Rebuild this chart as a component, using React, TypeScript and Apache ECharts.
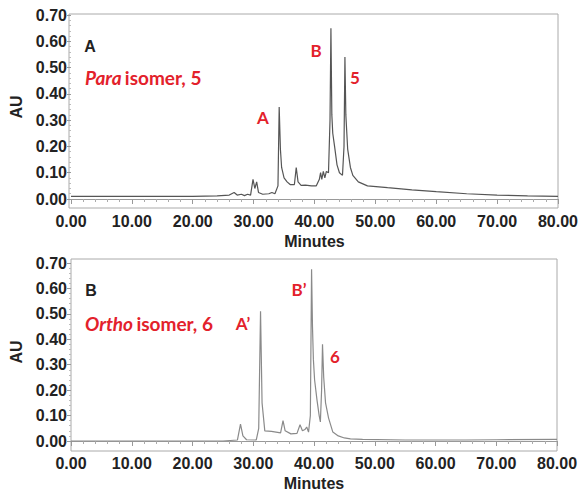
import React, { useEffect, useRef } from "react";
import * as echarts from "echarts";

// Panel A: para isomer 5 (minutes, AU)
const paraTime = [0, 5, 10, 15, 20, 24, 26, 26.8, 27.3, 28, 28.5, 29, 29.5, 29.9, 30.2, 30.5, 30.8, 31.5, 32.5, 33, 33.5, 34.0, 34.2, 34.4, 34.6, 35.0, 35.5, 36, 36.7, 37.0, 37.3, 37.8, 38.5, 39.5, 40.3, 40.8, 41.0, 41.2, 41.45, 41.7, 41.95, 42.3, 42.55, 42.7, 42.85, 43.0, 43.3, 43.7, 44.1, 44.6, 44.85, 45.0, 45.15, 45.45, 45.9, 46.3, 47.2, 48.7, 52, 56, 60, 65, 70, 75, 80];
const paraAU = [0.01, 0.01, 0.01, 0.01, 0.01, 0.012, 0.015, 0.025, 0.015, 0.018, 0.013, 0.018, 0.015, 0.075, 0.04, 0.065, 0.025, 0.018, 0.02, 0.025, 0.02, 0.05, 0.35, 0.19, 0.12, 0.08, 0.065, 0.055, 0.055, 0.12, 0.065, 0.052, 0.053, 0.05, 0.05, 0.075, 0.1, 0.075, 0.105, 0.08, 0.105, 0.1, 0.3, 0.65, 0.32, 0.25, 0.2, 0.13, 0.1, 0.09, 0.2, 0.54, 0.32, 0.19, 0.12, 0.09, 0.065, 0.05, 0.043, 0.035, 0.028, 0.02, 0.015, 0.012, 0.01];

// Panel B: ortho isomer 6 (minutes, AU)
const orthoTime = [0, 10, 20, 25, 27.4, 27.9, 28.3, 28.9, 30.5, 30.9, 31.2, 31.45, 31.9, 33, 34.5, 34.9, 35.25, 36.2, 37.2, 37.7, 38.1, 38.5, 38.8, 39.1, 39.4, 39.6, 39.75, 39.9, 40.1, 40.5, 40.85, 41.05, 41.25, 41.4, 41.6, 41.9, 42.4, 43.1, 44, 45, 46, 48, 55, 65, 70, 80];
const orthoAU = [0.0, 0.0, 0.0, 0.0, 0.004, 0.066, 0.02, 0.005, 0.004, 0.05, 0.51, 0.15, 0.04, 0.038, 0.032, 0.08, 0.04, 0.028, 0.03, 0.064, 0.04, 0.045, 0.055, 0.035, 0.1, 0.675, 0.45, 0.32, 0.24, 0.16, 0.1, 0.075, 0.2, 0.38, 0.25, 0.15, 0.09, 0.035, 0.02, 0.012, 0.008, 0.006, 0.004, 0.004, 0.005, 0.006];

const xTicks = [0, 10, 20, 30, 40, 50, 60, 70, 80];
const yTicks = [0, 0.1, 0.2, 0.3, 0.4, 0.5, 0.6, 0.7];

const AXIS_FONT = "'Liberation Sans', Arial, sans-serif";
const ANNO_FONT = "Lato, 'Open Sans', sans-serif";
const RED = "#e3212b";

function zip(xs: number[], ys: number[]) {
  return xs.map((x, i) => [x, ys[i]]);
}

export default function App() {
  const ref = useRef<HTMLDivElement>(null);
  useEffect(() => {
    document.body.style.margin = "0";
    if (!ref.current) return;
    const chart = echarts.init(ref.current, undefined, { renderer: "svg" });

    const grids = [
      { left: 69, right: 23, top: 15, bottom: 293 },
      { left: 71, right: 24, top: 263, bottom: 50 },
    ];

    const mkX = (i: number) => ({
      type: "value",
      gridIndex: i,
      min: xTicks[0],
      max: xTicks[xTicks.length - 1],
      interval: 10,
      offset: 9,
      name: "Minutes",
      nameLocation: "middle",
      nameGap: 25,
      nameTextStyle: { fontFamily: AXIS_FONT, fontWeight: "bold", fontSize: 16, color: "#222" },
      axisLine: { show: true, lineStyle: { color: "#999", width: 1 } },
      axisTick: { show: true, length: 5, lineStyle: { color: "#999" } },
      minorTick: { show: true, splitNumber: 5, length: 3, lineStyle: { color: "#aaa" } },
      splitLine: { show: false },
      axisLabel: {
        fontFamily: AXIS_FONT,
        fontWeight: "bold",
        fontSize: 16,
        color: "#222",
        margin: 5,
        formatter: (v: number) => v.toFixed(2),
      },
    });

    const mkY = (i: number) => ({
      type: "value",
      gridIndex: i,
      min: yTicks[0],
      max: yTicks[yTicks.length - 1],
      interval: 0.1,
      name: "AU",
      nameLocation: "middle",
      nameGap: 47,
      nameTextStyle: { fontFamily: AXIS_FONT, fontWeight: "bold", fontSize: 16, color: "#222" },
      axisLine: { show: false },
      axisTick: { show: true, length: 4, lineStyle: { color: "#999" } },
      minorTick: { show: true, splitNumber: 5, length: 2, lineStyle: { color: "#bbb" } },
      splitLine: { show: false },
      axisLabel: {
        fontFamily: AXIS_FONT,
        fontWeight: "bold",
        fontSize: 16,
        color: "#222",
        margin: 4,
        formatter: (v: number) => v.toFixed(2),
      },
    });

    const redText = (x: number, y: number, text: string) => ({
      type: "text",
      x,
      y,
      style: {
        text,
        fill: RED,
        font: `bold 17px ${ANNO_FONT}`,
        textAlign: "center",
        textVerticalAlign: "middle",
      },
    });

    const rich = {
      i: { fontStyle: "italic", fontWeight: "bold", fontSize: 19, fontFamily: ANNO_FONT, fill: RED, color: RED },
      n: { fontWeight: "bold", fontSize: 19, fontFamily: ANNO_FONT, fill: RED, color: RED },
    };

    chart.setOption({
      animation: false,
      grid: grids,
      xAxis: [mkX(0), mkX(1)],
      yAxis: [mkY(0), mkY(1)],
      series: [
        {
          type: "line",
          xAxisIndex: 0,
          yAxisIndex: 0,
          data: zip(paraTime, paraAU),
          showSymbol: false,
          lineStyle: { color: "#555", width: 1.2 },
        },
        {
          type: "line",
          xAxisIndex: 1,
          yAxisIndex: 1,
          data: zip(orthoTime, orthoAU),
          showSymbol: false,
          lineStyle: { color: "#8a8a8a", width: 1.2 },
        },
      ],
      graphic: [
        { type: "rect", shape: { x: 69, y: 14, width: 489, height: 194 }, style: { fill: "none", stroke: "#aaa", lineWidth: 1 }, silent: true },
        { type: "rect", shape: { x: 71, y: 259, width: 486, height: 192 }, style: { fill: "none", stroke: "#aaa", lineWidth: 1 }, silent: true },
        {
          type: "text",
          x: 90,
          y: 46,
          style: { text: "A", fill: "#222", font: `bold 16px ${AXIS_FONT}`, textAlign: "center", textVerticalAlign: "middle" },
        },
        {
          type: "text",
          x: 91,
          y: 290,
          style: { text: "B", fill: "#222", font: `bold 16px ${AXIS_FONT}`, textAlign: "center", textVerticalAlign: "middle" },
        },
        {
          type: "text",
          x: 85,
          y: 77,
          style: { text: "{i|Para} {n|isomer, 5}", rich, textVerticalAlign: "middle" },
        },
        {
          type: "text",
          x: 85,
          y: 323,
          style: { text: "{i|Ortho} {n|isomer, 6}", rich, textVerticalAlign: "middle" },
        },
        redText(263, 117, "A"),
        redText(316, 50, "B"),
        redText(355, 77, "5"),
        redText(243, 323, "A\u2019"),
        redText(299, 289, "B\u2019"),
        redText(335, 356, "6"),
      ],
    });
    return () => chart.dispose();
  }, []);
  return <div ref={ref} style={{ width: 581, height: 492, background: "#fff" }} />;
}
